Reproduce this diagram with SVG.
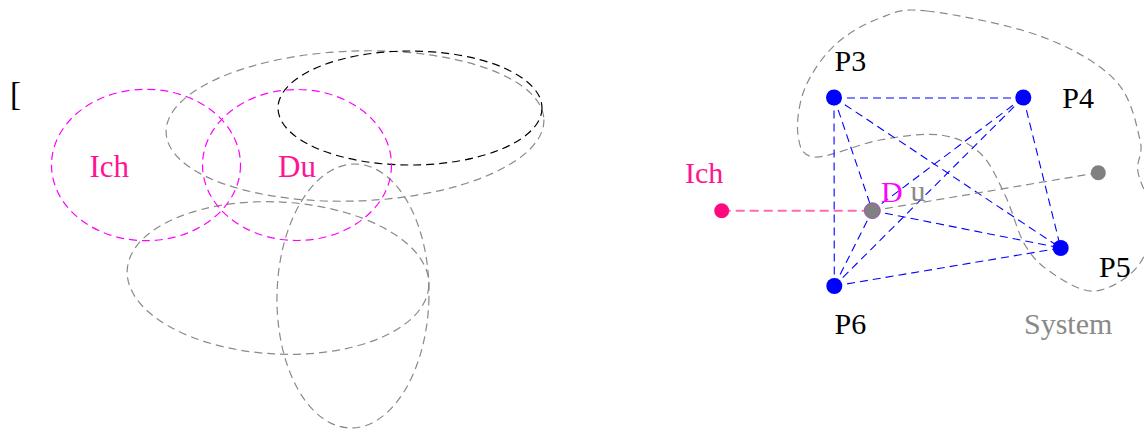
<svg xmlns="http://www.w3.org/2000/svg" width="1144" height="430" viewBox="0 0 1144 430">
<style>
  text { font-family: "Liberation Serif", "Times New Roman", serif; }
  .lbl { font-size: 30px; fill: #000; }
  .pink { font-size: 31px; fill: #ff1493; }
  .mag { fill: none; stroke: #ff00ff; stroke-width: 1.2; stroke-dasharray: 8 5; }
  .gry { fill: none; stroke: #8a8a8a; stroke-width: 1.2; stroke-dasharray: 8 5; }
  .blk { fill: none; stroke: #000; stroke-width: 1.2; stroke-dasharray: 8 5; }
  .blue { stroke: #0000ff; stroke-width: 1.1; stroke-dasharray: 8 5; fill: none; }
  .pdot { fill: #0000ff; }
</style>
<rect width="1144" height="430" fill="#fff"/>

<!-- Left part -->
<text x="10" y="105" style="font-size:33px" fill="#000">[</text>
<g id="ell-big"><ellipse class="gry" cx="355" cy="126" rx="189" ry="75" transform="rotate(-2 355 126)"/></g>
<g id="ell-black"><ellipse class="blk" cx="410" cy="108" rx="132" ry="57"/></g>
<g id="ell-lower"><ellipse class="gry" cx="278" cy="278" rx="151" ry="76" transform="rotate(3 278 278)"/></g>
<g id="ell-tall"><ellipse class="gry" cx="353" cy="296" rx="76" ry="132" transform="rotate(1.2 353 296)"/></g>
<g id="ich-left">
  <ellipse class="mag" cx="146" cy="165" rx="94.5" ry="75.7"/>
  <text class="pink" x="89.5" y="176.7">Ich</text>
</g>
<g id="du-left">
  <ellipse class="mag" cx="297" cy="165" rx="94.5" ry="75.5"/>
  <text class="pink" x="278" y="176.7">Du</text>
</g>

<!-- Right part -->
<g id="system">
  <path class="gry" d="M 927,11 C 953.7,14 1008.7,24.5 1040,36 C 1071.3,47.5 1098.3,62.7 1115,80 C 1131.7,97.3 1136.2,124.7 1140,140 C 1143.8,155.3 1136,159 1138,172 C 1140,185 1152,202.3 1152,218 C 1152,233.7 1147.5,253.8 1138,266 C 1128.5,278.2 1109.3,289.8 1095,291 C 1080.7,292.2 1063.7,280.7 1052,273 C 1040.3,265.3 1032.8,258 1025,245 C 1017.2,232 1012.5,210.3 1005,195 C 997.5,179.7 990.8,163 980,153 C 969.2,143 956.7,137.2 940,135 C 923.3,132.8 900.8,136.3 880,140 C 859.2,143.7 828.7,157.8 815,157 C 801.3,156.2 799.7,146.5 798,135 C 796.3,123.5 798.8,103 805,88 C 811.2,73 822.5,56.7 835,45 C 847.5,33.3 864.7,23.7 880,18 C 895.3,12.3 900.3,8 927,11 Z"/>
  <text x="1024" y="334.3" style="font-size:30px" fill="#8a8a8a">System</text>
</g>

<g id="connectors">
  <line class="blue" x1="834" y1="98" x2="1023.3" y2="98"/>
  <line class="blue" x1="834" y1="97.5" x2="834.3" y2="286"/>
  <line class="blue" x1="834" y1="97.5" x2="872.3" y2="210.7"/>
  <line class="blue" x1="834" y1="97.5" x2="1060.7" y2="248"/>
  <line class="blue" x1="1023.3" y1="97.5" x2="1060.7" y2="248"/>
  <line class="blue" x1="1023.3" y1="97.5" x2="872.3" y2="210.7"/>
  <line class="blue" x1="1023.3" y1="97.5" x2="834.3" y2="286"/>
  <line class="blue" x1="834.3" y1="286" x2="872.3" y2="210.7"/>
  <line class="blue" x1="834.3" y1="286" x2="1060.7" y2="248"/>
  <line class="blue" x1="872.3" y1="210.7" x2="1060.7" y2="248"/>
  <line x1="721.7" y1="210.7" x2="872.3" y2="210.7" stroke="#ff69b4" stroke-width="2" stroke-dasharray="9 5"/>
  <line class="gry" x1="872.3" y1="210.7" x2="1098.3" y2="172.7"/>
</g>

<g id="ich-right">
  <circle cx="721.7" cy="210.7" r="7.5" fill="#ff0a80"/>
  <text x="685" y="183" style="font-size:30px" fill="#ff1493">Ich</text>
</g>
<g id="du-right">
  <circle cx="872.3" cy="210.7" r="8" fill="#808080" stroke="#a040c0" stroke-width="0.8"/>
  <text x="881" y="201.7" style="font-size:30px" fill="#ff00ff">D</text>
  <text x="910.5" y="201" style="font-size:30px" fill="#8a8a8a">u</text>
</g>
<g id="sys-point">
  <circle cx="1098.3" cy="172.7" r="7.5" fill="#808080"/>
</g>
<g id="p3">
  <circle class="pdot" cx="834" cy="97.5" r="8"/>
  <text class="lbl" x="834.5" y="70.7">P3</text>
</g>
<g id="p4">
  <circle class="pdot" cx="1023.3" cy="97.5" r="8"/>
  <text class="lbl" x="1062.3" y="108.3">P4</text>
</g>
<g id="p5">
  <circle class="pdot" cx="1060.7" cy="248" r="8"/>
  <text class="lbl" x="1099" y="276.7">P5</text>
</g>
<g id="p6">
  <circle class="pdot" cx="834.3" cy="286" r="8"/>
  <text class="lbl" x="834.5" y="334.3">P6</text>
</g>
</svg>
